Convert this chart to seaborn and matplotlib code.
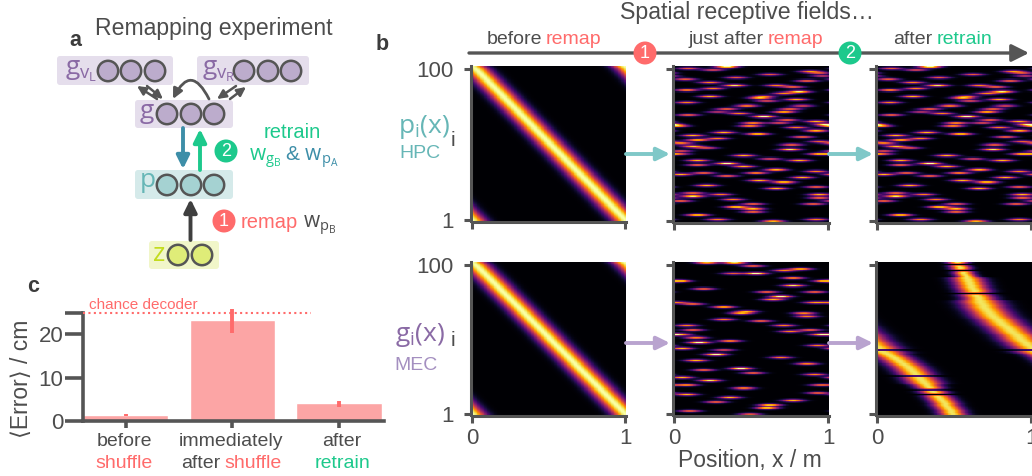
import numpy as np
import pandas as pd
import seaborn as sns
import matplotlib
matplotlib.use("Agg")
import matplotlib.pyplot as plt
from matplotlib.patches import FancyBboxPatch, Circle

# ---------- data ----------
bar_categories = ["before shuffle", "immediately after shuffle", "after retrain"]
bar_values = [1.3, 23.2, 4.2]
err_low = [1.1, 20.3, 3.2]
err_high = [1.6, 25.8, 4.5]
chance_level = 25

# preferred position of each cell, rows 1..100 (before remapping)
diag_centres = [1.00, .99, .98, .97, .96, .95, .94, .93, .92, .91,
                .90, .89, .88, .87, .86, .85, .84, .83, .82, .81,
                .80, .79, .78, .77, .76, .75, .74, .73, .72, .71,
                .70, .69, .68, .67, .66, .65, .64, .63, .62, .61,
                .60, .59, .58, .57, .56, .55, .54, .53, .52, .51,
                .50, .49, .48, .47, .46, .45, .44, .43, .42, .41,
                .40, .39, .38, .37, .36, .35, .34, .33, .32, .31,
                .30, .29, .28, .27, .26, .25, .24, .23, .22, .21,
                .20, .19, .18, .17, .16, .15, .14, .13, .12, .11,
                .10, .09, .08, .07, .06, .05, .04, .03, .02, .00]

# HPC fields after remap
hpc_rows = [100, 99, 98, 97, 96, 95, 94, 93, 92, 91, 90, 88, 88, 87, 86, 85, 84, 83, 81, 81,
            80, 79, 78, 77, 75, 75, 73, 73, 71, 71, 70, 69, 68, 66, 65, 64, 64, 63, 62, 62,
            61, 59, 58, 57, 56, 55, 54, 53, 52, 51, 50, 49, 48, 47, 46, 44, 44, 43, 41, 40,
            40, 38, 37, 36, 34, 33, 32, 32, 31, 30, 29, 27, 26, 24, 23, 22, 19, 18, 18, 17,
            16, 15, 14, 12, 12, 10, 9, 7, 5, 2, 2, 1]
hpc_x = [.34, .09, .25, .88, .94, .62, .96, .40, .07, .86, .23, .66, .39, .77, .25, .08, .81, .71, .58, .23,
         .55, .79, .60, .08, .47, .83, .34, .75, .28, .71, .42, .09, .58, .73, .92, .51, .68, .98, .02, .49,
         .79, .92, .32, .54, .12, .83, .28, .15, .94, .04, .76, .12, .21, .75, .04, .03, .94, .45, .62, .15,
         .81, .34, .15, .45, .66, .92, .53, .19, .04, .34, .83, .55, .71, .21, .92, .66, .12, .94, .30, .12,
         .94, .38, .04, .51, .90, .40, .51, .51, .15, .92, .28, .64]
hpc_amp = [1, .6, .6, .7, .6, .6, .5, .6, .6, .7, .7, .7, .9, .7, .7, .8, .9, .7, .6, .8,
           .8, .8, .6, .7, .8, .6, .7, .7, .5, .9, .7, .7, 1, .7, .8, .8, .6, .9, .8, .8,
           .7, .8, .8, 1, .8, .7, .7, .9, .6, .8, .7, .8, .6, .9, .6, .6, .9, .8, .6, .8,
           .8, 1, .7, .8, .8, .7, .8, .7, .8, .7, .8, .8, 1, .8, .7, .8, .7, .8, .7, .9,
           .7, .7, .7, .7, .7, 1, .8, .7, 1, .7, .7, .8]

# MEC fields after remap
mec_rows = [100, 100, 98, 96, 95, 93, 93, 90, 88, 88, 85, 83, 81, 81, 78, 76, 74, 74, 73, 71,
            68, 67, 67, 65, 63, 62, 59, 59, 56, 56, 55, 53, 53, 51, 49, 48, 46, 44, 43, 40,
            38, 36, 34, 31, 30, 28, 27, 25, 23, 20, 20, 18, 15, 14, 12, 10, 9, 7, 5, 3, 1]
mec_x = [.21, .39, .51, .82, .71, .53, .38, .77, .03, .97, .77, .19, .60, .91, .69, .64, .02, .91, .12, .32,
         .47, .43, .84, .86, .32, .56, .08, .71, .12, .88, .75, .95, .04, .14, .36, .16, .93, .05, .32, .27,
         .69, .14, .86, .43, .19, .51, .91, .05, .23, .08, .95, .45, .93, .08, .36, .77, .27, .62, .60, .10, .49]
mec_amp = [.8, .9, .7, .9, .7, 1, .6, .8, 1, .7, .9, .7, .7, .7, 1, .8, .6, .7, .7, .9,
           .7, .7, .7, .7, .7, .7, .7, .7, .7, .7, .7, .8, .7, .7, .8, 1, .7, .8, .6, 1,
           .7, .8, .7, 1, .7, .7, .7, .8, .9, .8, .7, .8, .7, .8, .8, .8, .7, 1, 1, .7, .6]

# retrained MEC band: centre and width per row 1..100, silent rows
mec_band_centres = [.49, .48, .48, .47, .46, .45, .44, .44, .43, .42,
                    .41, .40, .39, .38, .37, .36, .35, .34, .33, .32,
                    .31, .30, .29, .28, .27, .26, .25, .24, .23, .22,
                    .21, .20, .18, .17, .15, .14, .12, .11, .09, .07,
                    .05, .03, .02, .01, .00, .98, .97, .96, .94, .93,
                    .92, .91, .90, .88, .87, .86, .85, .84, .82, .81,
                    .80, .79, .78, .76, .75, .74, .73, .72, .71, .70,
                    .69, .69, .68, .67, .67, .66, .66, .65, .64, .64,
                    .63, .63, .62, .61, .61, .60, .60, .59, .59, .58,
                    .58, .57, .56, .56, .55, .54, .54, .53, .53, .52]
mec_band_widths = [.06] * 20 + [.075] * 20 + [.09] * 35 + [.07] * 15 + [.045] * 10
mec_silent_rows = [14, 17, 26, 43, 80, 95, 99]

row_labels = ["100", "1"]
x_labels = ["0", "1"]

# ---------- style ----------
sns.set_theme(style="ticks")
plt.rcParams["font.family"] = ["Liberation Sans", "DejaVu Sans"]
plt.rcParams["mathtext.fontset"] = "custom"
plt.rcParams["mathtext.rm"] = "Open Sans"
plt.rcParams["mathtext.it"] = "Open Sans"
plt.rcParams["mathtext.default"] = "rm"

W, H = 1032, 476
DARK = "#4d4d4d"
AXC = "#555555"
RED = "#ff6b6b"
GREEN = "#1dc98c"
BLUE = "#3d8ea8"
TEAL = "#7fc8c8"
TEALT = "#66b6b6"
PURP = "#b9a3cf"
PURPT = "#8a6aa5"

fig = plt.figure(figsize=(W / 100, H / 100), dpi=100, facecolor="white")


def px_axes(l, t, r, b):
    return fig.add_axes([l / W, 1 - b / H, (r - l) / W, (b - t) / H])


cols = np.arange(200) / 199.0
ROW_UP = 3
SMOOTH = np.array([1, 2, 3, 2, 1]) / 9.0
SHARP = np.array([1, 2, 1]) / 4.0


def periodic(d):
    d = np.abs(d)
    return np.minimum(d, 1 - d)


def band_matrix(centres, widths, silent=(), amp=1.0):
    m = np.zeros((100, cols.size))
    for i in range(100):
        if i + 1 in silent:
            continue
        m[i] = amp * np.exp(-periodic(cols - centres[i]) ** 2 / (2 * widths[i] ** 2))
    return m


def field_matrix(rows, xs, amps, sx=0.05, sr=0.55, gain=1.05):
    m = np.zeros((100, cols.size))
    rr = np.arange(1, 101)[:, None]
    for r, x, a in zip(rows, xs, amps):
        m += gain * a * np.exp(-(rr - r) ** 2 / (2 * sr ** 2)) * np.exp(-periodic(cols - x) ** 2 / (2 * sx ** 2))[None, :]
    return np.clip(m, 0, 1)


def display_grid(mat, kernel):
    """Top row first, each row drawn as three cells softened like the resampled image."""
    up = np.repeat(mat[::-1], ROW_UP, axis=0)
    pad = np.pad(up, ((kernel.size // 2, kernel.size // 2), (0, 0)), mode="edge")
    return np.apply_along_axis(lambda c: np.convolve(c, kernel, mode="valid"), 0, pad)


def heat(mat, l, t, r, b, ylab=False, xlab=False, kernel=SMOOTH):
    ax = px_axes(l, t, r, b)
    grid = display_grid(mat, kernel)
    df = pd.DataFrame(grid)
    sns.heatmap(df, ax=ax, cmap="inferno", vmin=0, vmax=1, cbar=False,
                xticklabels=False, yticklabels=False, rasterized=True)
    for s in ["top", "right"]:
        ax.spines[s].set_visible(False)
    for s in ["left", "bottom"]:
        ax.spines[s].set_visible(True)
        ax.spines[s].set_color(AXC)
        ax.spines[s].set_linewidth(2.2)
        ax.spines[s].set_position(("outward", 1))
    ax.set_xticks([0, grid.shape[1] * 0.995])
    ax.set_yticks([grid.shape[0] * 0.02, grid.shape[0] * 0.995])
    ax.set_xticklabels(x_labels if xlab else ["", ""], fontsize=16, color=DARK)
    ax.set_yticklabels(row_labels if ylab else ["", ""], fontsize=16, color=DARK)
    ax.tick_params(axis="both", length=5, width=2.2, color=AXC, pad=3)
    ax.tick_params(axis="y", rotation=0, pad=7 if ylab else 3)
    ax.tick_params(axis="x", rotation=0)
    ax.set_xlabel("")
    ax.set_ylabel("")
    return ax


diag = band_matrix(diag_centres, [0.06] * 100)
hpc = field_matrix(hpc_rows, hpc_x, hpc_amp)
mec = field_matrix(mec_rows, mec_x, mec_amp)
mec2 = band_matrix(mec_band_centres, mec_band_widths, mec_silent_rows, amp=0.93)

colx = [(472, 626), (674, 829), (877, 1032)]
heat(diag, *[colx[0][0], 66, colx[0][1], 221], ylab=True)
heat(hpc, *[colx[1][0], 66, colx[1][1], 222], kernel=SHARP)
heat(hpc, *[colx[2][0], 66, colx[2][1], 222], kernel=SHARP)
heat(diag, *[colx[0][0], 262, colx[0][1], 415], ylab=True, xlab=True)
heat(mec, *[colx[1][0], 262, colx[1][1], 415], xlab=True, kernel=SHARP)
heat(mec2, *[colx[2][0], 262, colx[2][1], 415], xlab=True, kernel=SHARP)

# ---------- bar panel ----------
bax = px_axes(83, 312.7, 384, 420.7)
sns.barplot(x=bar_categories, y=bar_values, color="#fca5a5", saturation=1, width=0.8, errorbar=None, ax=bax)
bax.set_xlim(-0.4, 2.42)
bax.set_ylim(0, 25)
bax.vlines([0, 1, 2], err_low, err_high, colors=RED, linewidth=2.8, clip_on=False, zorder=5, capstyle="butt")
bax.plot([-0.4, 1.74], [chance_level, chance_level], ls=(0, (1, 1.6)), color=RED, lw=1.5, clip_on=False, zorder=6)
bax.set_yticks([0, 10, 20, 25])
bax.set_yticklabels(["0", "10", "20", ""], fontsize=16, color=DARK)
bax.set_xticks([0, 1, 2])
bax.set_xticklabels(["", "", ""])
bax.tick_params(axis="y", length=13, width=2.6, color=AXC, pad=1)
bax.tick_params(axis="x", length=5, width=2.6, color=AXC)
for s in ["top", "right"]:
    bax.spines[s].set_visible(False)
for s in ["left", "bottom"]:
    bax.spines[s].set_color(AXC)
    bax.spines[s].set_linewidth(2.6)
bax.set_xlabel("")
bax.set_ylabel("")

# ---------- overlay in pixel coordinates ----------
ov = fig.add_axes([0, 0, 1, 1], zorder=10)
ov.set_xlim(0, W)
ov.set_ylim(H, 0)
ov.axis("off")
ov.patch.set_alpha(0)


def T(x, y, s, color=DARK, size=14, ha="center", va="center", **kw):
    return ov.text(x, y, s, color=color, fontsize=size, ha=ha, va=va, **kw)


renderer = fig.canvas.get_renderer()


def rich(xc, y, pieces, size=14, gap=5):
    """Pieces of differently coloured text centred as one line around xc."""
    items = [T(0, y, s, c, size, ha="left", va="baseline") for s, c in pieces]
    widths = [t.get_window_extent(renderer).width for t in items]
    x = xc - (sum(widths) + gap * (len(widths) - 1)) / 2
    for t, w in zip(items, widths):
        t.set_x(x)
        x += w + gap


def box(l, t, r, b, color):
    ov.add_patch(FancyBboxPatch((l + 3, t + 3), r - l - 6, b - t - 6, boxstyle="round,pad=3,rounding_size=3",
                                fc=color, ec="none"))


def nodes(xs, y, fc):
    for x in xs:
        ov.add_patch(Circle((x, y), 10.2, fc=fc, ec="#555555", lw=1.8))


def arrow(p0, p1, color, lw=2.4, hw=0.32, hl=0.65, ms=12, conn=None):
    ov.annotate("", xy=p1, xytext=p0,
                arrowprops=dict(arrowstyle=f"-|>,head_width={hw},head_length={hl}", color=color, lw=lw,
                                mutation_scale=ms, shrinkA=0, shrinkB=0, connectionstyle=conn or "arc3,rad=0"))


def badge(x, y, s, color, r=11.5):
    ov.add_patch(Circle((x, y), r, fc=color, ec="none", zorder=4))
    T(x, y, s, "white", 13, zorder=5)


# panel letters and headers
T(75, 40, "a", "#3c3c3c", 15.5, fontweight="bold")
T(382, 45, "b", "#3c3c3c", 15.5, fontweight="bold")
T(33, 287, "c", "#3c3c3c", 15.5, fontweight="bold")
T(214, 29, "Remapping experiment", DARK, 16.6)
T(747, 13, "Spatial receptive fields…", DARK, 16.7)

# schematic
box(57, 56, 173, 85, "#e5deec")
box(197, 56, 309, 85, "#e5deec")
box(135, 100, 233, 128, "#e5deec")
box(135, 170, 233, 199, "#d5eaea")
box(149, 241, 219, 269, "#f1f6c9")
nodes([108, 131, 155], 71, "#bcaccc")
nodes([244, 268, 291], 71, "#bcaccc")
nodes([167, 191, 214], 114, "#bcaccc")
nodes([167, 191, 214], 185, "#a5d2d2")
nodes([178, 202], 255, "#dfec78")
T(65, 71, r"$\mathrm{g_{v_L}}$", PURPT, 19, ha="left")
T(202, 71, r"$\mathrm{g_{v_R}}$", PURPT, 19, ha="left")
T(139, 114, r"$\mathrm{g}$", PURPT, 19, ha="left")
T(139, 183, r"$\mathrm{p}$", TEALT, 19, ha="left")
T(152, 254, r"$\mathrm{z}$", "#c3dc1e", 19, ha="left")

arrow((157, 99), (137, 86), AXC, lw=1.8, ms=8)
arrow((147, 86), (163, 99), AXC, lw=1.8, ms=8)
arrow((230, 99), (246, 87), AXC, lw=1.8, ms=8)
arrow((236, 86), (217, 99), AXC, lw=1.8, ms=8)
arrow((209, 99), (173, 99), AXC, lw=2, ms=9, conn="arc3,rad=1.0")
arrow((183, 128), (183, 169), BLUE, lw=2.8)
arrow((200, 170), (200, 129), GREEN, lw=2.8)
arrow((190.5, 240), (190.5, 199), "#3f3f3f", lw=2.8)

badge(226, 151, "2", GREEN)
badge(224, 221, "1", RED)
T(292, 133, "retrain", GREEN, 14.5)
rich(294, 161, [(r"$\mathrm{w_{g_B}}$", GREEN), (r"& $\mathrm{w_{p_A}}$", BLUE)], size=15, gap=4)
T(241, 223, "remap", RED, 14.5, ha="left")
T(303, 226, r"$\mathrm{w_{p_B}}$", "#4d4d4d", 15, ha="left")

# timeline on top of panel b
arrow((469, 53), (1029, 53), AXC, lw=2.4, hw=0.4, hl=0.8, ms=13)
badge(645, 53, "1", RED)
badge(850, 53, "2", GREEN)
rich(544, 44, [("before", DARK), ("remap", RED)], size=14, gap=4)
rich(756, 44, [("just after", DARK), ("remap", RED)], size=14, gap=4)
rich(943, 44, [("after", DARK), ("retrain", GREEN)], size=14, gap=4)

# connecting arrows between heatmaps
for x0, x1 in [(626, 670), (829, 873)]:
    arrow((x0, 154), (x1, 154), TEAL, lw=2.8)
    arrow((x0, 343), (x1, 343), PURP, lw=2.8)

# panel b row labels
T(424, 127, r"$\mathrm{p_i(x)}$", TEALT, 19)
T(420, 154, "HPC", TEALT, 14)
T(453, 140, "i", DARK, 15)
T(420, 335, r"$\mathrm{g_i(x)}$", PURPT, 19)
T(416, 365, "MEC", "#a48fc0", 14)
T(453, 340, "i", DARK, 15)
T(750, 460, "Position, x / m", DARK, 16.5)

# panel c labels
T(89, 305, "chance decoder", RED, 11, ha="left")
T(21, 379, "⟨Error⟩ / cm", DARK, 16.5, rotation=90)
T(124, 441, "before", DARK, 14)
T(124, 463, "shuffle", RED, 14)
T(231, 441, "immediately", DARK, 14)
rich(231, 468, [("after", DARK), ("shuffle", RED)], size=14, gap=4)
T(342, 441, "after", DARK, 14)
T(342, 463, "retrain", GREEN, 14)

fig.savefig("out.png", dpi=100, facecolor="white")
